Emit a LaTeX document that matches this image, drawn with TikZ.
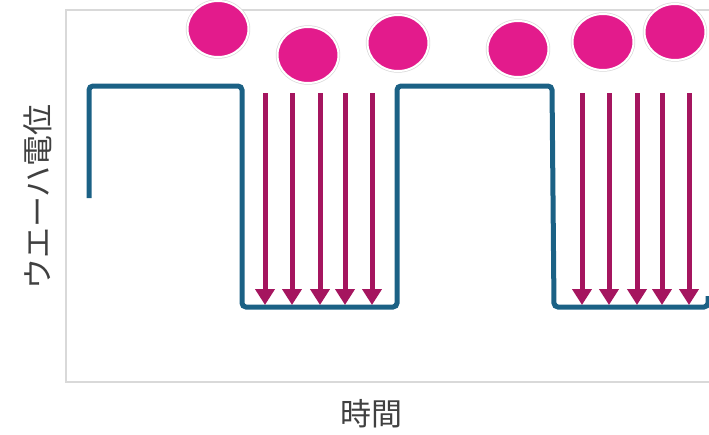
\documentclass[tikz,border=0pt]{standalone}
\usepackage{fontspec}
\newfontfamily\jpfont{Noto Sans CJK JP}
\usetikzlibrary{arrows.meta, shapes.geometric}
\definecolor{wafer}{HTML}{1B6185}
\definecolor{ionpink}{HTML}{E31B8C}
\definecolor{flux}{HTML}{A5155F}
\definecolor{cadre}{HTML}{D9D9D9}
\definecolor{texte}{HTML}{404040}

\begin{document}
\begin{tikzpicture}[x=1pt, y=-1pt,
  ion/.style={ellipse, fill=ionpink, draw=white, line width=2pt,
    minimum width=61pt, minimum height=56pt, inner sep=0pt,
    preaction={draw=black!15, line width=3.4pt}},
  fluxarrow/.style={flux, line width=5pt,
    -{Triangle[width=19pt, length=16pt]}},
  label/.style={texte, font=\jpfont\fontsize{31}{34}\selectfont}]
  \useasboundingbox (0,0) rectangle (709,434);
  % cadre du graphe
  \draw[cadre, line width=1.5pt] (709,10) -- (66,10) -- (66,382) -- (709,382);
  % potentiel de la plaquette
  \draw[wafer, line width=5pt, rounded corners=4pt]
    (89,198) -- (89,86) -- (242,86) -- (242,307) -- (397,307) -- (397,86)
    -- (552,86) -- (554,307) -- (708,307) -- (708,296);
  % ions
  \foreach \n/\x/\y in {1/218/29, 2/308/55, 3/398/43, 4/518/49, 5/603/42, 6/675/32}{
    \node[ion] (ion\n) at (\x,\y) {};
  }
  % flux d'ions
  \foreach \x in {265,292,320,345,372,582,609,637,662,689}{
    \draw[fluxarrow] (\x,93) -- (\x,305);
  }
  % axes
  \node[label] (temps) at (371,414) {時間};
  \node[label, rotate=90] (potentiel) at (38,197) {ウエーハ電位};
\end{tikzpicture}
\end{document}
